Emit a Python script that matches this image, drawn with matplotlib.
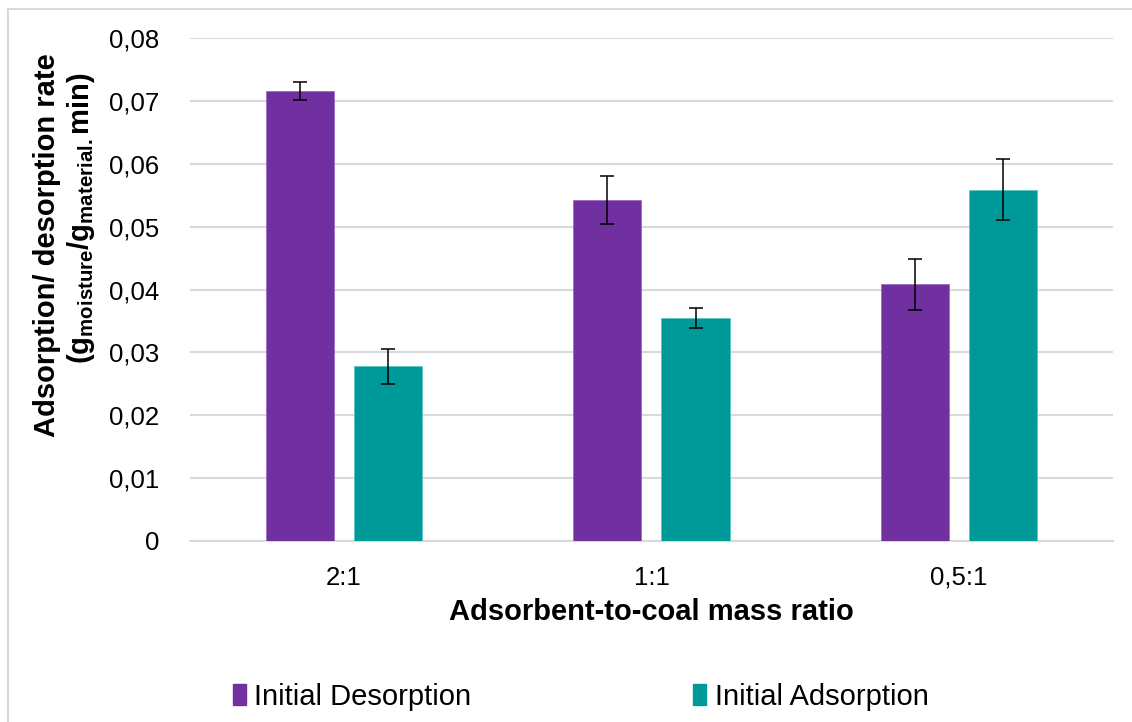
import numpy as np
import matplotlib.pyplot as plt
from matplotlib.lines import Line2D

plt.rcParams['font.family'] = ['Liberation Sans', 'DejaVu Sans']
plt.rcParams['mathtext.fontset'] = 'custom'
plt.rcParams['mathtext.rm'] = 'Liberation Sans'
plt.rcParams['mathtext.bf'] = 'Liberation Sans:bold'

# mass ratios and measured initial rates (g moisture / g material . min)
ratios = ['2:1', '1:1', '0,5:1']
desorption = [0.0716, 0.0543, 0.0408]
desorption_err = [0.0015, 0.0038, 0.0041]
adsorption = [0.0278, 0.0354, 0.0559]
adsorption_err = [0.0028, 0.0016, 0.0048]
yticks = [0, 0.01, 0.02, 0.03, 0.04, 0.05, 0.06, 0.07, 0.08]

purple = '#7030A0'
teal = '#009999'
grid_col = '#d9d9d9'

W, H = 1132, 722
fig = plt.figure(figsize=(W / 100, H / 100), dpi=100)
ax = fig.add_axes([0.168, 0.251, 0.815, 0.696])

x = np.arange(len(ratios))
w = 0.222
off = 0.1435
err_kw = dict(ecolor='black', elinewidth=1.1, capsize=5, capthick=1.1)
ax.bar(x - off, desorption, w, yerr=desorption_err, color=purple,
       edgecolor='#9b6cc4', linewidth=0.6, error_kw=err_kw, zorder=3)
ax.bar(x + off, adsorption, w, yerr=adsorption_err, color=teal,
       edgecolor='#5cc4c4', linewidth=0.6, error_kw=err_kw, zorder=3)

ax.set_xlim(-0.5, 2.5)
ax.set_ylim(0, 0.08)
ax.set_yticks(yticks)
ax.set_yticklabels(['0' if v == 0 else f'{v:.2f}'.replace('.', ',') for v in yticks])
ax.set_xticks(x)
ax.set_xticklabels(ratios)
ax.tick_params(axis='both', length=0, labelsize=18.5, colors='black')
ax.tick_params(axis='y', pad=22)
ax.tick_params(axis='x', pad=18)
ax.grid(axis='y', color=grid_col, linewidth=1.5, zorder=0)
for s in ['left', 'right', 'top']:
    ax.spines[s].set_visible(False)
ax.spines['bottom'].set_color(grid_col)
ax.spines['bottom'].set_linewidth(1.5)

ax.set_xlabel('Adsorbent-to-coal mass ratio', fontsize=21, fontweight='bold', labelpad=6)

# two-line y title, each line placed on its own
fig.text(47 / W, 1 - 245 / H, 'Adsorption/ desorption rate', rotation=90,
         ha='center', va='center', fontsize=21, fontweight='bold')
fig.text(81 / W, 1 - 218 / H, r'$\mathbf{(g_{moisture}/g_{material.}min)}$',
         rotation=90, ha='center', va='center', fontsize=21)

handles = [plt.Rectangle((0, 0), 1, 1, color=purple),
           plt.Rectangle((0, 0), 1, 1, color=teal)]
fig.legend(handles, ['Initial Desorption', 'Initial Adsorption'],
           loc='center', bbox_to_anchor=(0.513, 0.035), ncol=2, frameon=False,
           fontsize=21, handlelength=0.45, handleheight=0.7, handletextpad=0.3,
           columnspacing=7.6)

# light frame around the chart area
fig.add_artist(Line2D([7.5 / W, 1], [1 - 8.5 / H, 1 - 8.5 / H],
                      transform=fig.transFigure, color=grid_col, linewidth=1.5))
fig.add_artist(Line2D([7.5 / W, 7.5 / W], [0, 1 - 8.5 / H],
                      transform=fig.transFigure, color=grid_col, linewidth=1.5))

fig.savefig('out.png', dpi=100)
